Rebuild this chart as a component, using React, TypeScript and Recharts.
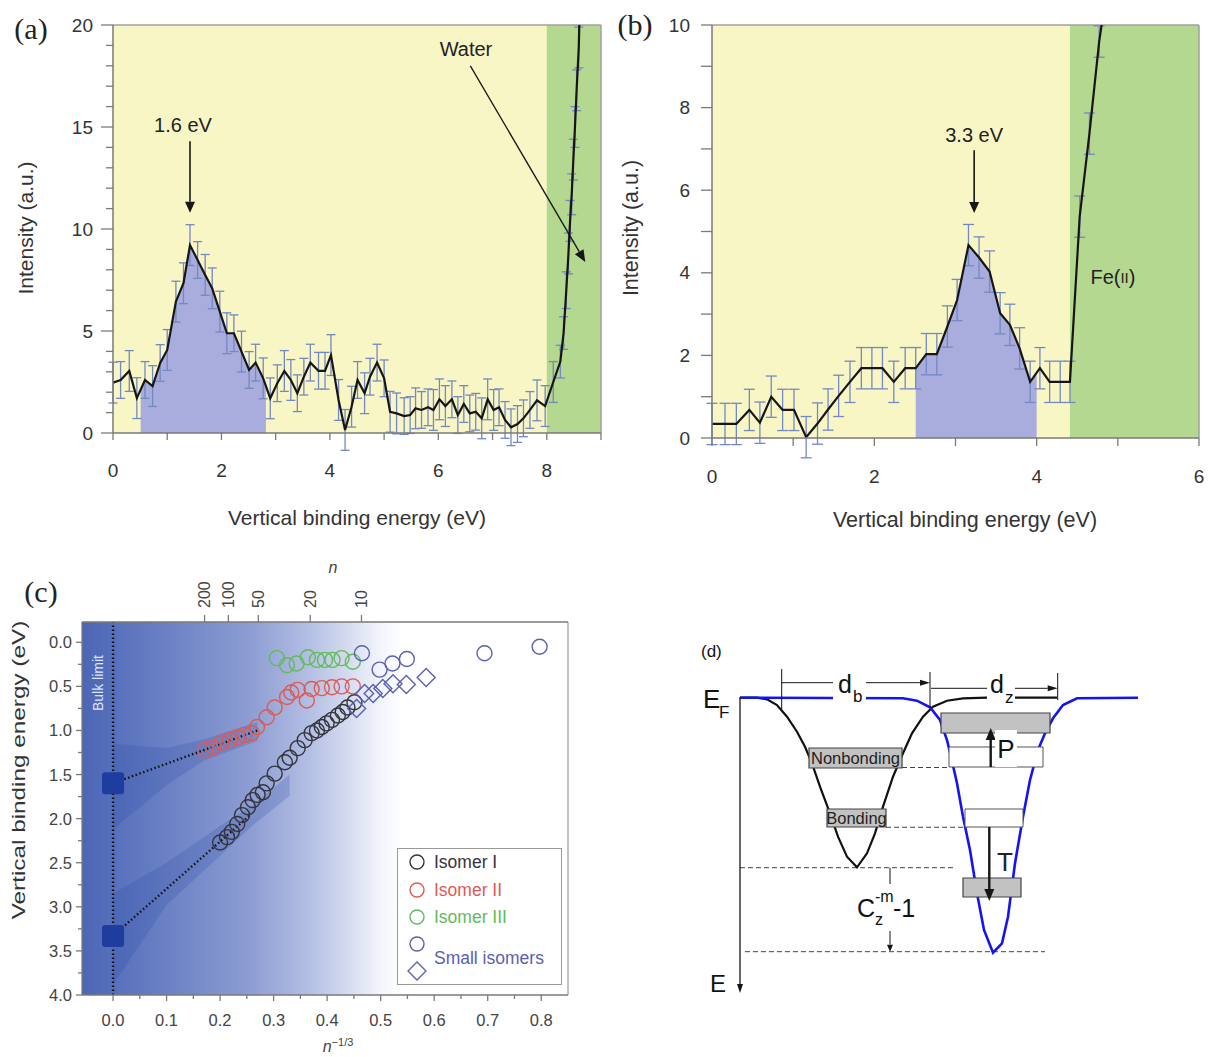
import React from 'react'
import {
  ComposedChart,
  Line,
  Area,
  Scatter,
  XAxis,
  YAxis,
  CartesianGrid,
  ErrorBar,
  ReferenceLine,
  ReferenceArea,
  ReferenceDot,
  Legend,
} from 'recharts'

const SANS = '"Liberation Sans", Arial, Helvetica, sans-serif'
const SERIF = '"Liberation Serif", "DejaVu Serif", serif'

// ---------- (a) water side of the spectrum ----------
const aEnergy = [
  0, 0.14, 0.3, 0.44, 0.59, 0.73, 0.87, 1.0, 1.16, 1.3, 1.42, 1.56, 1.7, 1.83, 1.97, 2.1, 2.23, 2.37, 2.51, 2.63,
  2.77, 2.9, 3.03, 3.16, 3.28, 3.4, 3.52, 3.64, 3.79, 3.91, 4.02, 4.16, 4.28, 4.4, 4.51, 4.64, 4.74, 4.87, 5.0,
  5.11, 5.23, 5.37, 5.48, 5.58, 5.69, 5.81, 5.91, 6.02, 6.13, 6.25, 6.36, 6.47, 6.58, 6.69, 6.8, 6.91, 7.02, 7.12,
  7.23, 7.34, 7.46, 7.57, 7.69, 7.82, 7.97, 8.12, 8.25, 8.31, 8.36, 8.4, 8.43, 8.46, 8.49, 8.52, 8.55, 8.59, 8.6,
]
const aIntensity = [
  2.47, 2.6, 3.04, 1.71, 2.6, 2.3, 3.43, 4.07, 6.44, 7.34, 9.21, 8.48, 7.75, 7.09, 5.95, 4.89, 4.89, 3.99, 3.09, 3.45,
  2.68, 1.7, 2.44, 3.04, 2.6, 1.95, 2.76, 3.45, 3.05, 3.05, 3.82, 1.62, 0.15, 1.29, 2.6, 1.95, 2.76, 3.45, 2.68,
  1.04, 0.96, 0.83, 0.88, 1.21, 1.13, 1.26, 1.13, 1.65, 1.32, 1.65, 0.88, 1.42, 0.96, 1.04, 0.72, 1.65, 1.13, 1.26,
  0.64, 0.28, 0.44, 0.72, 1.13, 1.6, 1.32, 2.5, 3.5, 4.9, 7.0, 8.8, 10.4, 11.7, 13.4, 15.0, 16.8, 18.9, 20.0,
]
const aError = [
  1.0, 0.9, 1.0, 1.0, 0.9, 1.0, 0.9, 1.0, 1.0, 1.0, 1.0, 0.9, 1.0, 1.0, 1.0, 1.0, 0.9, 1.0, 0.9, 0.9,
  1.0, 1.0, 0.9, 1.0, 1.0, 0.9, 0.9, 0.9, 0.9, 0.9, 1.0, 1.0, 1.0, 1.0, 0.9, 1.0, 0.9, 0.9, 0.9,
  1.0, 1.0, 0.9, 0.9, 1.0, 0.9, 0.9, 1.0, 1.0, 1.0, 0.9, 0.9, 0.9, 0.9, 0.9, 1.0, 1.0, 1.0, 0.9,
  0.9, 0.9, 0.9, 0.9, 0.9, 1.0, 1.0, 1.0, 0.8, 0.8, 0.9, 1.0, 1.0, 1.0, 1.0, 1.0, 1.0, 1.0, 0,
]
const aPeakEdges = [
  { x: 0.51, y: 2.13 },
  { x: 2.82, y: 2.3 },
]
const aWaterBand = [8.0, 9.0]
const aXTicks = [0, 1, 2, 3, 4, 5, 6, 7, 8, 9]
const aYTicks = [0, 1, 2, 3, 4, 5, 6, 7, 8, 9, 10, 11, 12, 13, 14, 15, 16, 17, 18, 19, 20]

// ---------- (b) Fe(II) side ----------
const bEnergy = [
  0, 0.16, 0.3, 0.46, 0.59, 0.73, 0.87, 1.01, 1.16, 1.3, 1.43, 1.56, 1.7, 1.84, 1.97, 2.1, 2.24, 2.38, 2.51, 2.64,
  2.77, 2.9, 3.02, 3.16, 3.29, 3.42, 3.55, 3.67, 3.79, 3.92, 4.04, 4.16, 4.29, 4.41, 4.53, 4.65, 4.77, 4.8,
]
const bIntensity = [
  0.34, 0.34, 0.34, 0.68, 0.37, 1.0, 0.68, 0.68, 0.02, 0.35, 0.69, 1.02, 1.36, 1.69, 1.69, 1.69, 1.36, 1.69, 1.69, 2.03,
  2.03, 2.7, 3.34, 4.67, 4.37, 4.03, 3.02, 2.74, 2.17, 1.36, 1.69, 1.36, 1.36, 1.36, 5.36, 7.37, 9.6, 10.0,
]
const bError = [
  0.5, 0.5, 0.5, 0.5, 0.5, 0.5, 0.5, 0.5, 0.5, 0.5, 0.5, 0.5, 0.5, 0.5, 0.5, 0.5, 0.5, 0.5, 0.5, 0.5,
  0.5, 0.5, 0.5, 0.5, 0.5, 0.5, 0.5, 0.5, 0.5, 0.5, 0.5, 0.5, 0.5, 0.5, 0.5, 0.5, 0.38, 0,
]
const bPeakEdges = [
  { x: 2.51, y: 1.69 },
  { x: 4.0, y: 1.58 },
]
const bFeBand = [4.41, 6.0]
const bXTicks = [0, 1, 2, 3, 4, 5, 6]
const bYTicks = [0, 1, 2, 3, 4, 5, 6, 7, 8, 9, 10]

// ---------- (c) VBE vs n^-1/3 ----------
const isomer1 = [
  [0.2, 2.27], [0.213, 2.21], [0.222, 2.15], [0.232, 2.06], [0.241, 1.96], [0.252, 1.87], [0.261, 1.79],
  [0.27, 1.73], [0.28, 1.7], [0.287, 1.6], [0.302, 1.49], [0.321, 1.36], [0.33, 1.31], [0.345, 1.2],
  [0.358, 1.11], [0.371, 1.03], [0.381, 1.0], [0.39, 0.96], [0.399, 0.92], [0.409, 0.88], [0.42, 0.83],
  [0.429, 0.79], [0.438, 0.74], [0.451, 0.68],
]
const isomer2 = [
  [0.172, 1.22], [0.187, 1.19], [0.203, 1.14], [0.218, 1.11], [0.233, 1.08], [0.246, 1.05], [0.259, 1.03],
  [0.269, 0.96], [0.287, 0.85], [0.302, 0.74], [0.325, 0.62], [0.333, 0.57], [0.345, 0.54], [0.362, 0.66],
  [0.371, 0.53], [0.39, 0.52], [0.409, 0.51], [0.427, 0.5], [0.448, 0.5],
]
const isomer3 = [
  [0.306, 0.18], [0.325, 0.26], [0.343, 0.24], [0.364, 0.17], [0.381, 0.2], [0.396, 0.2], [0.41, 0.2],
  [0.427, 0.18], [0.448, 0.22],
]
const smallCircles = [[0.465, 0.125], [0.498, 0.31], [0.522, 0.24], [0.549, 0.19], [0.694, 0.125], [0.797, 0.05]]
const smallDiamonds = [[0.455, 0.75], [0.47, 0.58], [0.486, 0.58], [0.504, 0.525], [0.523, 0.47], [0.548, 0.48], [0.585, 0.4]]
const bulkLimits = [1.6, 3.33]
const fitEnds = [[0.27, 1.0], [0.256, 1.96]]
const upperBand = [[0, 1.15, 2.12], [0.1, 1.2, 1.62], [0.17, 1.1, 1.34], [0.27, 0.9, 1.12]]
const lowerBand = [[0, 2.85, 3.88], [0.1, 2.5, 2.98], [0.2, 2.08, 2.42], [0.26, 1.85, 2.08], [0.33, 1.5, 1.74]]
const nTicks = [200, 100, 50, 20, 10]
const cXTicks = [0, 0.05, 0.1, 0.15, 0.2, 0.25, 0.3, 0.35, 0.4, 0.45, 0.5, 0.55, 0.6, 0.65, 0.7, 0.75, 0.8]
const cYTicks = [0, 0.25, 0.5, 0.75, 1, 1.25, 1.5, 1.75, 2, 2.25, 2.5, 2.75, 3, 3.25, 3.5, 3.75, 4]

// ---------- (d) schematic wells (page pixel units) ----------
const bondWell = [
  [740, 697.7], [757, 697.7], [767, 699.3], [777, 705], [787, 716.7], [797, 731.7], [805, 746.7], [812, 763.3],
  [820, 786.7], [830, 813.3], [838, 836.7], [847, 856.7], [857, 867.3], [867, 853.3], [875, 833.3], [883, 806.7],
  [893, 776.7], [903, 753.3], [912, 733.3], [923, 716.7], [933, 706.7], [947, 700.7], [963, 698.3], [987, 697.7],
  [1057, 697.7],
]
const zoneWell = [
  [740, 697.7], [903, 698.3], [917, 700.7], [930, 707.3], [940, 720], [947, 740], [951, 756.7], [957, 783.3],
  [963, 816.7], [970, 850], [977, 893.3], [984, 930], [993, 952.7], [1002, 943.3], [1008, 916.7], [1015, 863.3],
  [1023, 816.7], [1030, 780], [1038, 750], [1045, 733.3], [1053, 718.3], [1063, 705], [1077, 698.3], [1138, 697.7],
]
const grayLevels = [
  { name: 'Nonbonding', x1: 809, x2: 902, y1: 748, y2: 768 },
  { name: 'Bonding', x1: 827, x2: 886, y1: 809, y2: 827 },
  { name: '', x1: 941, x2: 1050, y1: 713, y2: 733 },
  { name: '', x1: 963, x2: 1021, y1: 878, y2: 897 },
]
const whiteLevels = [
  { x1: 949, x2: 1043, y1: 747, y2: 767 },
  { x1: 965, x2: 1023, y1: 809, y2: 827 },
]
const dashLevels = [
  [902, 949, 767.5],
  [886, 965, 827.3],
  [740, 955, 867.7],
  [745, 1045, 951.7],
]

const YELLOW = '#f9f6c6'
const GREEN = '#b4d88f'
const LAVENDER = '#a9addd'
const ERRBAR = '#7488c2'
const INK = '#161616'
const AXIS = '#7a7a7a'
const FRAME = '#a0a0a0'
const C_I = '#34343c'
const C_II = '#dd5a55'
const C_III = '#62bb5a'
const C_S = '#5a60b2'

const xy = (pairs: number[][]) => pairs.map(([x, y]) => ({ x, y }))
const aData = aEnergy.map((x, i) => ({ x, y: aIntensity[i], err: aError[i] }))
const bData = bEnergy.map((x, i) => ({ x, y: bIntensity[i], err: bError[i] }))
const aPeak = [aPeakEdges[0], ...aData.filter((d) => d.x > aPeakEdges[0].x && d.x < aPeakEdges[1].x), aPeakEdges[1]]
const bPeak = [bPeakEdges[0], ...bData.filter((d) => d.x > bPeakEdges[0].x && d.x < bPeakEdges[1].x), bPeakEdges[1]]
const aWater = aWaterBand.map((x) => ({ x, y: 20 }))
const bFe = bFeBand.map((x) => ({ x, y: 10 }))
const bandData = (rows: number[][]) => rows.map(([x, lo, hi]) => ({ x, band: [lo, hi] }))
const nPositions = nTicks.map((n) => Math.pow(n, -1 / 3))

// ---------- small drawing helpers ----------
const isMult = (v: number, step: number) => Math.abs(v / step - Math.round(v / step)) < 1e-6

function bottomTick(major: (v: number) => boolean, fmt: (v: number) => string, lens: number[], gap: number, size: number, color: string) {
  return (p: any) => {
    const v = p.payload.value
    const m = major(v)
    return (
      <g>
        <line x1={p.x} x2={p.x} y1={p.y} y2={p.y + (m ? lens[0] : lens[1])} stroke={AXIS} strokeWidth={1.3} />
        {m && (
          <text x={p.x} y={p.y + gap} textAnchor="middle" dominantBaseline="central" fontSize={size} fill={color}>
            {fmt(v)}
          </text>
        )}
      </g>
    )
  }
}

function leftTick(major: (v: number) => boolean, fmt: (v: number) => string, lens: number[], gap: number, size: number, color: string) {
  return (p: any) => {
    const v = p.payload.value
    const m = major(v)
    return (
      <g>
        <line x1={p.x} x2={p.x - (m ? lens[0] : lens[1])} y1={p.y} y2={p.y} stroke={AXIS} strokeWidth={1.3} />
        {m && (
          <text x={p.x - gap} y={p.y} textAnchor="end" dominantBaseline="central" fontSize={size} fill={color}>
            {fmt(v)}
          </text>
        )}
      </g>
    )
  }
}

const topNTick = (p: any) => {
  const n = Math.round(Math.pow(p.payload.value, -3))
  return (
    <g>
      <line x1={p.x} x2={p.x} y1={p.y} y2={p.y - 7} stroke={AXIS} strokeWidth={1.3} />
      <text
        x={p.x}
        y={p.y - 14}
        transform={`rotate(-90, ${p.x}, ${p.y - 14})`}
        textAnchor="start"
        dominantBaseline="central"
        fontSize={16}
        fill="#444"
      >
        {n}
      </text>
    </g>
  )
}

function arrow(head = 11, half = 5, width = 1.6, color = INK) {
  return (p: any) => {
    const { x1, y1, x2, y2 } = p
    const a = Math.atan2(y2 - y1, x2 - x1)
    const bx = x2 - head * Math.cos(a)
    const by = y2 - head * Math.sin(a)
    const nx = -Math.sin(a) * half
    const ny = Math.cos(a) * half
    return (
      <g>
        <line x1={x1} y1={y1} x2={bx} y2={by} stroke={color} strokeWidth={width} />
        <polygon points={`${x2},${y2} ${bx + nx},${by + ny} ${bx - nx},${by - ny}`} fill={color} />
      </g>
    )
  }
}

const word = (text: React.ReactNode, size: number, anchor: 'start' | 'middle' | 'end' = 'middle') => (p: any) => (
  <text x={p.cx} y={p.cy} fontSize={size} textAnchor={anchor} dominantBaseline="central" fill="#222" fontFamily={SANS}>
    {text}
  </text>
)

const openCircle = (color: string) => (p: any) => (
  <circle cx={p.cx} cy={p.cy} r={7.5} fill="none" stroke={color} strokeWidth={1.4} />
)
const openDiamond = (color: string) => (p: any) => (
  <polygon
    points={`${p.cx},${p.cy - 9} ${p.cx + 9},${p.cy} ${p.cx},${p.cy + 9} ${p.cx - 9},${p.cy}`}
    fill="none"
    stroke={color}
    strokeWidth={1.4}
  />
)
const bulkSquare = (p: any) => (
  <rect x={p.cx - 11} y={p.cy - 11} width={22} height={22} rx={3} fill="#1f3c9f" />
)
const nothing = () => <g />

function Note(props: {
  x: number
  y: number
  size: number
  children: React.ReactNode
  rotate?: number
  stretch?: number
  family?: string
  color?: string
  italic?: boolean
}) {
  const { x, y, size, children, rotate = 0, stretch = 1, family = SANS, color = '#333', italic = false } = props
  return (
    <div
      style={{
        position: 'absolute',
        left: x,
        top: y,
        transform: `translate(-50%, -50%) rotate(${rotate}deg) scaleX(${stretch})`,
        fontSize: size,
        fontFamily: family,
        fontStyle: italic ? 'italic' : 'normal',
        color,
        whiteSpace: 'nowrap',
        lineHeight: 1,
      }}
    >
      {children}
    </div>
  )
}

function PanelA() {
  return (
    <div style={{ position: 'absolute', left: 0, top: 0 }}>
      <ComposedChart width={620} height={545} margin={{ top: 25, right: 19, bottom: 0, left: 0 }} style={{ fontFamily: SANS }}>
        <CartesianGrid horizontal={false} vertical={false} fill={YELLOW} fillOpacity={1} />
        <XAxis
          type="number"
          dataKey="x"
          domain={[0, 9]}
          ticks={aXTicks}
          interval={0}
          allowDataOverflow
          height={112}
          tickSize={0}
          tickMargin={0}
          tickLine={false}
          axisLine={{ stroke: AXIS, strokeWidth: 1.5 }}
          tick={bottomTick((v) => isMult(v, 2), (v) => String(v), [7, 7], 37, 19, '#333')}
        />
        <YAxis
          type="number"
          domain={[0, 20]}
          ticks={aYTicks}
          interval={0}
          allowDataOverflow
          width={113}
          tickSize={0}
          tickMargin={0}
          tickLine={false}
          axisLine={{ stroke: AXIS, strokeWidth: 1.5 }}
          tick={leftTick((v) => isMult(v, 5), (v) => String(v), [12, 7], 20, 19, '#333')}
        />
        <Area data={aWater} dataKey="y" type="linear" stroke="none" fill={GREEN} fillOpacity={1} isAnimationActive={false} />
        <Area data={aPeak} dataKey="y" type="linear" stroke="none" fill={LAVENDER} fillOpacity={1} isAnimationActive={false} />
        <ReferenceLine y={20} stroke={FRAME} strokeWidth={1.5} />
        <ReferenceLine x={9} stroke={FRAME} strokeWidth={1.5} />
        <Line data={aData} dataKey="y" type="linear" stroke={INK} strokeWidth={2.2} dot={false} isAnimationActive={false}>
          <ErrorBar dataKey="err" direction="y" width={4.5} stroke={ERRBAR} strokeWidth={1.3} isAnimationActive={false} />
        </Line>
        <ReferenceLine segment={[{ x: 1.42, y: 14.3 }, { x: 1.42, y: 10.8 }]} shape={arrow()} />
        <ReferenceLine segment={[{ x: 6.59, y: 18.0 }, { x: 8.71, y: 8.38 }]} shape={arrow(12, 5, 1.3)} />
        <ReferenceDot x={1.29} y={15.1} shape={word('1.6 eV', 20)} />
        <ReferenceDot x={6.51} y={18.8} shape={word('Water', 20)} />
      </ComposedChart>
    </div>
  )
}

function PanelB() {
  return (
    <div style={{ position: 'absolute', left: 620, top: 0 }}>
      <ComposedChart width={589} height={545} margin={{ top: 25, right: 10, bottom: 0, left: 0 }} style={{ fontFamily: SANS }}>
        <CartesianGrid horizontal={false} vertical={false} fill={YELLOW} fillOpacity={1} />
        <XAxis
          type="number"
          dataKey="x"
          domain={[0, 6]}
          ticks={bXTicks}
          interval={0}
          allowDataOverflow
          height={107}
          tickSize={0}
          tickMargin={0}
          tickLine={false}
          axisLine={{ stroke: AXIS, strokeWidth: 1.5 }}
          tick={bottomTick((v) => isMult(v, 2), (v) => String(v), [8, 8], 38, 19, '#333')}
        />
        <YAxis
          type="number"
          domain={[0, 10]}
          ticks={bYTicks}
          interval={0}
          allowDataOverflow
          width={92}
          tickSize={0}
          tickMargin={0}
          tickLine={false}
          axisLine={{ stroke: AXIS, strokeWidth: 1.5 }}
          tick={leftTick((v) => isMult(v, 2), (v) => String(v), [11, 11], 22, 19, '#333')}
        />
        <Area data={bFe} dataKey="y" type="linear" stroke="none" fill={GREEN} fillOpacity={1} isAnimationActive={false} />
        <Area data={bPeak} dataKey="y" type="linear" stroke="none" fill={LAVENDER} fillOpacity={1} isAnimationActive={false} />
        <ReferenceLine y={10} stroke={FRAME} strokeWidth={1.5} />
        <ReferenceLine x={6} stroke={FRAME} strokeWidth={1.5} />
        <Line data={bData} dataKey="y" type="linear" stroke={INK} strokeWidth={2.2} dot={false} isAnimationActive={false}>
          <ErrorBar dataKey="err" direction="y" width={5.5} stroke={ERRBAR} strokeWidth={1.3} isAnimationActive={false} />
        </Line>
        <ReferenceLine segment={[{ x: 3.23, y: 6.97 }, { x: 3.23, y: 5.45 }]} shape={arrow()} />
        <ReferenceDot x={3.23} y={7.34} shape={word('3.3 eV', 20)} />
        <ReferenceDot
          x={4.94}
          y={3.9}
          shape={word(
            <>
              Fe(<tspan fontSize={15}>II</tspan>)
            </>,
            20,
          )}
        />
      </ComposedChart>
    </div>
  )
}

const legendRows = [
  { label: 'Isomer I', color: C_I, y: 14 },
  { label: 'Isomer II', color: C_II, y: 42 },
  { label: 'Isomer III', color: C_III, y: 69 },
  { label: 'Small isomers', color: C_S, y: 110 },
]

const IsomerLegend = () => (
  <div style={{ width: 165, height: 137, border: '1.5px solid #999', background: '#fff', boxSizing: 'border-box', position: 'relative' }}>
    <svg width={165} height={137} style={{ position: 'absolute', left: -1.5, top: -1.5 }}>
      {legendRows.slice(0, 3).map((r) => (
        <circle key={r.label} cx={20} cy={r.y} r={7} fill="none" stroke={r.color} strokeWidth={1.4} />
      ))}
      <circle cx={20} cy={96} r={7} fill="none" stroke={C_S} strokeWidth={1.4} />
      <polygon points="20,114 29,123 20,132 11,123" fill="none" stroke={C_S} strokeWidth={1.4} />
      {legendRows.map((r) => (
        <text key={r.label} x={37} y={r.y} dominantBaseline="central" fontSize={17.5} fill={r.color} fontFamily={SANS}>
          {r.label}
        </text>
      ))}
    </svg>
  </div>
)

function PanelC() {
  return (
    <div style={{ position: 'absolute', left: 0, top: 545 }}>
      <ComposedChart width={600} height={512} margin={{ top: 17, right: 32, bottom: 0, left: 0 }} style={{ fontFamily: SANS }}>
        <CartesianGrid horizontal={false} vertical={false} fill="url(#bulkGrad)" fillOpacity={1} />
        <XAxis
          type="number"
          dataKey="x"
          domain={[-0.058, 0.85]}
          ticks={cXTicks}
          interval={0}
          allowDataOverflow
          height={62}
          tickSize={0}
          tickMargin={0}
          tickLine={false}
          axisLine={{ stroke: AXIS, strokeWidth: 1.3 }}
          tick={bottomTick((v) => isMult(v, 0.1), (v) => v.toFixed(1), [6, 4], 25, 16.5, '#444')}
        />
        <XAxis
          xAxisId="n"
          orientation="top"
          type="number"
          dataKey="x"
          domain={[-0.058, 0.85]}
          ticks={nPositions}
          interval={0}
          allowDataOverflow
          height={60}
          tickSize={0}
          tickMargin={0}
          tickLine={false}
          axisLine={{ stroke: AXIS, strokeWidth: 1.3 }}
          tick={topNTick}
        />
        <YAxis
          type="number"
          reversed
          domain={[-0.23, 4]}
          ticks={cYTicks}
          interval={0}
          allowDataOverflow
          width={82}
          tickSize={0}
          tickMargin={0}
          tickLine={false}
          axisLine={{ stroke: AXIS, strokeWidth: 1.3 }}
          tick={leftTick((v) => isMult(v, 0.5), (v) => v.toFixed(1), [6, 4], 10, 16.5, '#444')}
        />
        <Area data={bandData(upperBand)} dataKey="band" type="linear" stroke="none" fill="#2a47a4" fillOpacity={0.22} isAnimationActive={false} />
        <Area data={bandData(lowerBand)} dataKey="band" type="linear" stroke="none" fill="#2a47a4" fillOpacity={0.22} isAnimationActive={false} />
        <ReferenceLine x={0.85} stroke={FRAME} strokeWidth={1.3} />
        <ReferenceLine x={0} stroke="#111" strokeWidth={2.4} strokeDasharray="1.5 2.5" />
        {fitEnds.map(([x, y], i) => (
          <Line
            key={i}
            data={[{ x: 0, y: bulkLimits[i] }, { x, y }]}
            dataKey="y"
            type="linear"
            stroke="#111"
            strokeWidth={2.4}
            strokeDasharray="1.5 2.5"
            dot={false}
            isAnimationActive={false}
          />
        ))}
        {/* invisible series that hangs the cluster-size axis on the same scale */}
        <Scatter xAxisId="n" data={nPositions.map((x) => ({ x, y: 2 }))} dataKey="y" shape={nothing} isAnimationActive={false} />
        <Scatter data={xy(isomer1)} dataKey="y" shape={openCircle(C_I)} isAnimationActive={false} />
        <Scatter data={xy(isomer2)} dataKey="y" shape={openCircle(C_II)} isAnimationActive={false} />
        <Scatter data={xy(isomer3)} dataKey="y" shape={openCircle(C_III)} isAnimationActive={false} />
        <Scatter data={xy(smallCircles)} dataKey="y" shape={openCircle(C_S)} isAnimationActive={false} />
        <Scatter data={xy(smallDiamonds)} dataKey="y" shape={openDiamond(C_S)} isAnimationActive={false} />
        <Scatter data={bulkLimits.map((y) => ({ x: 0, y }))} dataKey="y" shape={bulkSquare} isAnimationActive={false} />
        <Legend
          layout="vertical"
          align="center"
          verticalAlign="middle"
          content={IsomerLegend}
          wrapperStyle={{ left: 397, top: 303, width: 165, height: 137 }}
        />
      </ComposedChart>
    </div>
  )
}

function PanelD() {
  const dash = { stroke: '#444', strokeWidth: 1, strokeDasharray: '5 3' }
  return (
    <div style={{ position: 'absolute', left: 600, top: 545 }}>
      <ComposedChart width={609} height={512} margin={{ top: 0, right: 0, bottom: 0, left: 0 }} style={{ fontFamily: SANS }}>
        <XAxis type="number" dataKey="x" domain={[600, 1209]} hide allowDataOverflow />
        <YAxis type="number" domain={[545, 1057]} reversed hide allowDataOverflow />
        {dashLevels.map(([x1, x2, y], i) => (
          <ReferenceLine key={i} segment={[{ x: x1, y }, { x: x2, y }]} {...dash} />
        ))}
        <Line data={xy(bondWell)} dataKey="y" type="linear" stroke="#111" strokeWidth={2.2} dot={false} isAnimationActive={false} />
        <Line data={xy(zoneWell)} dataKey="y" type="linear" stroke="#1414f0" strokeWidth={2.6} dot={false} isAnimationActive={false} />
        {whiteLevels.map((r, i) => (
          <ReferenceArea key={i} x1={r.x1} x2={r.x2} y1={r.y1} y2={r.y2} fill="#fff" fillOpacity={1} stroke="#555" strokeWidth={1} zIndex={450} />
        ))}
        {grayLevels.map((r, i) => (
          <ReferenceArea
            key={i}
            x1={r.x1}
            x2={r.x2}
            y1={r.y1}
            y2={r.y2}
            fill="#c2c2c2"
            fillOpacity={1}
            stroke="#444"
            strokeWidth={1.2}
            zIndex={460}
            label={r.name ? { value: r.name, position: 'center', fontSize: 16.5, fill: '#222' } : undefined}
          />
        ))}
        {/* energy axis */}
        <ReferenceLine segment={[{ x: 740, y: 697 }, { x: 740, y: 993 }]} shape={arrow(9, 3, 1.3)} />
        {/* d_b and d_z dimensions */}
        <ReferenceLine segment={[{ x: 781.7, y: 669 }, { x: 781.7, y: 710 }]} stroke="#111" strokeWidth={1} />
        <ReferenceLine segment={[{ x: 930, y: 672 }, { x: 930, y: 708 }]} stroke="#111" strokeWidth={1} />
        <ReferenceLine segment={[{ x: 1057.7, y: 673 }, { x: 1057.7, y: 700 }]} stroke="#111" strokeWidth={1} />
        <ReferenceLine segment={[{ x: 781.7, y: 682.7 }, { x: 930, y: 682.7 }]} shape={arrow(10, 3, 1)} />
        <ReferenceLine segment={[{ x: 931, y: 688.3 }, { x: 1057.7, y: 688.3 }]} shape={arrow(10, 3, 1)} />
        {/* P and T transitions */}
        <ReferenceLine segment={[{ x: 990.7, y: 767 }, { x: 990.7, y: 728 }]} shape={arrow(12, 5, 2.4)} zIndex={700} />
        <ReferenceLine segment={[{ x: 989.3, y: 827 }, { x: 989.3, y: 901 }]} shape={arrow(12, 5, 2.4)} zIndex={700} />
        {/* C_z^-m - 1 */}
        <ReferenceLine segment={[{ x: 890, y: 867.7 }, { x: 890, y: 884 }]} stroke="#111" strokeWidth={1} />
        <ReferenceLine segment={[{ x: 890, y: 931 }, { x: 890, y: 951.7 }]} shape={arrow(7, 3, 1)} />
        <ReferenceDot
          x={849}
          y={688}
          zIndex={800}
          shape={(p: any) => (
            <g>
              <rect x={p.cx - 16} y={p.cy - 20} width={33} height={38} fill="#fff" />
              <text x={p.cx - 11} y={p.cy + 5} fontSize={25} fill="#111">d</text>
              <text x={p.cx + 4} y={p.cy + 14} fontSize={17} fill="#111">b</text>
            </g>
          )}
        />
        <ReferenceDot
          x={1000}
          y={688}
          zIndex={800}
          shape={(p: any) => (
            <g>
              <rect x={p.cx - 13} y={p.cy - 18} width={28} height={36} fill="#fff" />
              <text x={p.cx - 10} y={p.cy + 5} fontSize={25} fill="#111">d</text>
              <text x={p.cx + 5} y={p.cy + 15} fontSize={17} fill="#111">z</text>
            </g>
          )}
        />
        <ReferenceDot
          x={1006}
          y={749}
          zIndex={800}
          shape={(p: any) => (
            <g>
              <rect x={p.cx - 11} y={p.cy - 19} width={22} height={37} fill="#fff" />
              <text x={p.cx} y={p.cy + 9} fontSize={26} textAnchor="middle" fill="#111">P</text>
            </g>
          )}
        />
        <ReferenceDot x={1005} y={862} zIndex={800} shape={word('T', 26)} />
        <ReferenceDot
          x={857}
          y={917}
          zIndex={800}
          shape={(p: any) => (
            <g fill="#111" fontFamily={SANS}>
              <text x={p.cx} y={p.cy} fontSize={25}>C</text>
              <text x={p.cx + 18} y={p.cy - 15} fontSize={16}>-m</text>
              <text x={p.cx + 18} y={p.cy + 8} fontSize={16}>z</text>
              <text x={p.cx + 36} y={p.cy} fontSize={25}>-1</text>
            </g>
          )}
        />
        <ReferenceDot
          x={703}
          y={708}
          zIndex={800}
          shape={(p: any) => (
            <g fill="#111" fontFamily={SANS}>
              <text x={p.cx} y={p.cy} fontSize={26}>E</text>
              <text x={p.cx + 16} y={p.cy + 10} fontSize={17}>F</text>
            </g>
          )}
        />
        <ReferenceDot x={710} y={992} zIndex={800} shape={(p: any) => <text x={p.cx} y={p.cy} fontSize={24} fill="#111">E</text>} />
        <ReferenceDot x={701} y={657} zIndex={800} shape={(p: any) => <text x={p.cx} y={p.cy} fontSize={17} fill="#111">(d)</text>} />
      </ComposedChart>
    </div>
  )
}

export default function App() {
  return (
    <div style={{ position: 'absolute', left: 0, top: 0, width: 1209, height: 1057, background: '#fff', overflow: 'hidden', fontFamily: SANS }}>
      <svg width={0} height={0} style={{ position: 'absolute' }}>
        <defs>
          <linearGradient id="bulkGrad" x1="0" y1="0" x2="1" y2="0">
            <stop offset="0" stopColor="#4c65b6" />
            <stop offset="0.064" stopColor="#5670bb" />
            <stop offset="0.18" stopColor="#6c82c5" />
            <stop offset="0.35" stopColor="#8e9ed3" />
            <stop offset="0.47" stopColor="#b4bfe3" />
            <stop offset="0.55" stopColor="#d6dcf0" />
            <stop offset="0.61" stopColor="#f2f4fb" />
            <stop offset="0.66" stopColor="#ffffff" />
            <stop offset="1" stopColor="#ffffff" />
          </linearGradient>
        </defs>
      </svg>
      <PanelA />
      <PanelB />
      <PanelC />
      <PanelD />

      <Note x={31} y={29} size={30} family={SERIF} color="#222">(a)</Note>
      <Note x={25} y={228} size={21} rotate={-90}>Intensity (a.u.)</Note>
      <Note x={357} y={517} size={21}>Vertical binding energy (eV)</Note>

      <Note x={635} y={25} size={30} family={SERIF} color="#222">(b)</Note>
      <Note x={632} y={228} size={21.5} rotate={-90}>Intensity (a.u.)</Note>
      <Note x={965} y={521} size={21.5}>Vertical binding energy (eV)</Note>

      <Note x={41} y={592} size={30} family={SERIF} color="#222">(c)</Note>
      <Note x={19} y={770} size={18} rotate={-90} stretch={1.35}>Vertical binding energy (eV)</Note>
      <Note x={333} y={568} size={16} italic color="#444">n</Note>
      <Note x={338} y={1046} size={16} color="#444">
        <i>n</i>
        <sup style={{ fontSize: 11 }}>−1/3</sup>
      </Note>
      <Note x={98} y={683} size={14} rotate={-90} color="#dfe5f5">Bulk limit</Note>
    </div>
  )
}
